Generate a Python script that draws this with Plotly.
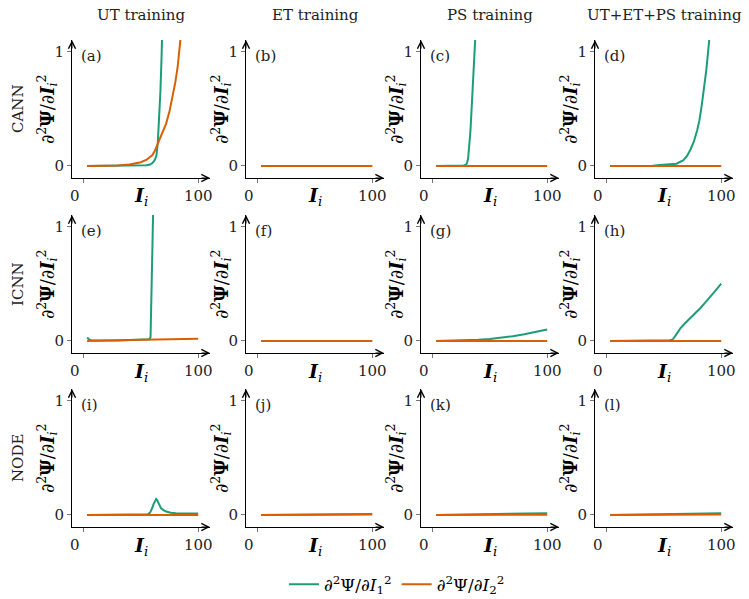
import plotly.graph_objects as go

# ---------------- data ----------------
COL_TITLES = ["UT training", "ET training", "PS training", "UT+ET+PS training"]
ROW_TITLES = ["CANN", "ICNN", "NODE"]
PANEL_LABELS = ["(a)", "(b)", "(c)", "(d)", "(e)", "(f)", "(g)", "(h)", "(i)", "(j)", "(k)", "(l)"]
X_TICKS = [0, 100]
Y_TICKS = [0, 1]

# (a) CANN / UT
A_I = [3, 10, 20, 30, 40, 45, 50, 55, 58, 60, 62, 63.5, 64.7, 66, 67, 68, 69, 72, 75, 78, 80, 82, 85, 88]
A_G = [0, 0, 0, 0, 0.001, 0.002, 0.003, 0.006, 0.012, 0.025, 0.05, 0.09, 0.2, 0.4, 0.65, 0.95, 1.35,
       None, None, None, None, None, None, None]
A_O = [0, 0, 0.002, 0.004, 0.012, 0.02, 0.033, 0.055, 0.075, 0.095, 0.13, 0.165, 0.2, 0.23, 0.25, 0.28, 0.3,
       0.37, 0.48, 0.62, 0.73, 0.86, 1.12, 1.45]
# (b) CANN / ET
B_I = [3, 50, 100]
B_G = [0, 0, 0]
B_O = [0, 0, 0]
# (c) CANN / PS
C_I = [3, 10, 20, 25, 27, 29, 30, 31, 32, 33, 34, 35, 36, 37, 37.5, 40, 50, 60, 70, 80, 90, 100]
C_G = [0, 0, 0, 0.002, 0.005, 0.01, 0.025, 0.07, 0.17, 0.31, 0.5, 0.68, 0.89, 1.08, 1.18,
       None, None, None, None, None, None, None]
C_O = [0] * 22
# (d) CANN / UT+ET+PS
D_I = [3, 10, 20, 30, 40, 46.5, 55, 61, 67, 70, 73, 76, 79, 81, 83, 85, 86, 87, 88, 89, 90, 92, 95, 100]
D_G = [0, 0, 0, 0, 0.003, 0.008, 0.012, 0.02, 0.05, 0.085, 0.14, 0.21, 0.31, 0.4, 0.53, 0.67, 0.75, 0.84,
       0.94, 1.04, 1.15, None, None, None]
D_O = [0] * 24
# (e) ICNN / UT
E_I = [3, 4, 5, 7, 10, 20, 30, 40, 50, 57.5, 58.4, 59.2, 59.8, 60.3, 60.6, 61, 70, 80, 90, 100]
E_G = [0.03, 0.02, 0.01, 0.005, 0.004, 0.004, 0.005, 0.007, 0.01, 0.015, 0.035, 0.36, 0.66, 0.96, 1.12, 1.3,
       None, None, None, None]
E_O = [0, 0, 0.001, 0.001, 0.002, 0.004, 0.006, 0.008, 0.01, 0.011, 0.011, 0.012, 0.012, 0.012, 0.012, 0.012,
       0.014, 0.016, 0.018, 0.02]
# (f) ICNN / ET
F_I = [3, 50, 100]
F_G = [0, 0, 0]
F_O = [0, 0, 0]
# (g) ICNN / PS
G_I = [3, 10, 20, 30, 40, 50, 60, 70, 80, 90, 100]
G_G = [0, 0.001, 0.003, 0.006, 0.011, 0.018, 0.028, 0.042, 0.058, 0.078, 0.1]
G_O = [0] * 11
# (h) ICNN / UT+ET+PS
H_I = [3, 10, 20, 30, 40, 50, 55, 57, 58.3, 61, 64.3, 68, 73.2, 78, 82.1, 86, 91, 95, 100]
H_G = [0, 0, 0, 0.001, 0.002, 0.004, 0.006, 0.01, 0.02, 0.06, 0.11, 0.15, 0.2, 0.25, 0.29, 0.335, 0.39, 0.44, 0.5]
H_O = [0] * 19
# (i) NODE / UT
I_I = [3, 10, 20, 30, 40, 50, 54, 56, 58, 59, 60, 61, 61.8, 62.5, 63.3, 64, 64.7, 66, 67.6, 70, 72, 76, 80.5, 90, 100]
I_G = [0, 0, 0.001, 0.001, 0.002, 0.003, 0.004, 0.006, 0.02, 0.04, 0.065, 0.095, 0.116, 0.13, 0.14, 0.132, 0.116,
       0.085, 0.058, 0.04, 0.03, 0.02, 0.015, 0.013, 0.012]
I_O = [0] * 25
# (j) NODE / ET
J_I = [3, 50, 100]
J_G = [0, 0.004, 0.008]
J_O = [0, 0.003, 0.005]
# (k) NODE / PS
K_I = [3, 50, 100]
K_G = [0, 0.008, 0.015]
K_O = [0, 0.002, 0.003]
# (l) NODE / UT+ET+PS
L_I = [3, 50, 100]
L_G = [0, 0.008, 0.015]
L_O = [0, 0.003, 0.004]

PANELS = [(A_I, A_G, A_O), (B_I, B_G, B_O), (C_I, C_G, C_O), (D_I, D_G, D_O),
          (E_I, E_G, E_O), (F_I, F_G, F_O), (G_I, G_G, G_O), (H_I, H_G, H_O),
          (I_I, I_G, I_O), (J_I, J_G, J_O), (K_I, K_G, K_O), (L_I, L_G, L_O)]

NAME_1 = "∂<sup>2</sup>Ψ/∂<i>I</i><sub>1</sub><sup>2</sup>"
NAME_2 = "∂<sup>2</sup>Ψ/∂<i>I</i><sub>2</sub><sup>2</sup>"
YLABEL = "∂<sup>2</sup><b>Ψ</b>/∂<b><i>I</i></b><sub><i>i</i></sub><sup>2</sup>"
XLABEL = "<b><i>I</i></b><sub><i>i</i></sub>"

# ---------------- styling / layout ----------------
GREEN = "#1b9e77"
ORANGE = "#d95f02"
FONT = "DejaVu Serif"
W, H = 749, 599
COL_LEFT = [72, 246, 421, 595]
ROW_TOP = [40, 215, 389]
PW, PH = 138, 138
X_RANGE = [-10.2, 110.3]
Y_RANGE = [-0.105, 1.1]

fig = go.Figure()
annotations = []
layout = {}

for k, (xs, g, o) in enumerate(PANELS):
    r, c = divmod(k, 4)
    xa = "x" if k == 0 else f"x{k+1}"
    ya = "y" if k == 0 else f"y{k+1}"
    xkey = "xaxis" if k == 0 else f"xaxis{k+1}"
    ykey = "yaxis" if k == 0 else f"yaxis{k+1}"
    fig.add_trace(go.Scatter(x=xs, y=g, mode="lines", line=dict(color=GREEN, width=2),
                             name=NAME_1, showlegend=(k == 0), xaxis=xa, yaxis=ya,
                             connectgaps=False))
    fig.add_trace(go.Scatter(x=xs, y=o, mode="lines", line=dict(color=ORANGE, width=2),
                             name=NAME_2, showlegend=(k == 0), xaxis=xa, yaxis=ya))
    x0 = COL_LEFT[c] / W
    x1 = (COL_LEFT[c] + PW) / W
    y1 = 1 - ROW_TOP[r] / H
    y0 = 1 - (ROW_TOP[r] + PH) / H
    layout[xkey] = dict(domain=[x0, x1], range=X_RANGE, anchor=ya, showgrid=False, zeroline=False,
                        automargin=False,
                        showline=True, linecolor="black", linewidth=1,
                        ticks="outside", ticklen=4, tickcolor="#777", tickwidth=1,
                        tickvals=X_TICKS, ticktext=["0\u2003\u2009", "100"],
                        tickfont=dict(family=FONT, size=15, color="#222"), fixedrange=True)
    layout[ykey] = dict(domain=[y0, y1], range=Y_RANGE, anchor=xa, showgrid=False, zeroline=False,
                        automargin=False,
                        showline=True, linecolor="black", linewidth=1,
                        ticks="outside", ticklen=4, tickcolor="#777", tickwidth=1,
                        tickvals=Y_TICKS, ticktext=[str(v) for v in Y_TICKS],
                        tickfont=dict(family=FONT, size=15, color="#222"), fixedrange=True)
    xd, yd = f"{xa} domain", f"{ya} domain"
    # axis arrows
    annotations.append(dict(xref=xd, yref=yd, x=1, y=0, ax=-10, ay=0, axref="pixel", ayref="pixel",
                            text="", showarrow=True, arrowhead=5, arrowsize=1.4, arrowwidth=1,
                            arrowcolor="black", standoff=0, startstandoff=0))
    annotations.append(dict(xref=xd, yref=yd, x=0, y=1, ax=0, ay=10, axref="pixel", ayref="pixel",
                            text="", showarrow=True, arrowhead=5, arrowsize=1.4, arrowwidth=1,
                            arrowcolor="black", standoff=0, startstandoff=0))
    # panel label
    annotations.append(dict(xref=xd, yref=yd, x=0, y=1, xshift=7, yshift=-16, xanchor="left",
                            yanchor="middle", text=PANEL_LABELS[k], showarrow=False,
                            font=dict(family=FONT, size=15, color="#222")))
    # axis titles
    annotations.append(dict(xref=xd, yref=yd, x=0, y=0.5, xshift=-25, xanchor="center",
                            yanchor="middle", textangle=-90, text=YLABEL, showarrow=False,
                            font=dict(family=FONT, size=18, color="black")))
    annotations.append(dict(xref=xd, yref=yd, x=0.5, y=0, yshift=-19, xanchor="center",
                            yanchor="middle", text=XLABEL, showarrow=False,
                            font=dict(family=FONT, size=19, color="black")))
    if r == 0:
        annotations.append(dict(xref=xd, yref="paper", x=0.5, y=1 - 15 / H, xanchor="center",
                                yanchor="middle", text=COL_TITLES[c], showarrow=False,
                                font=dict(family=FONT, size=15, color="#222")))
    if c == 0:
        annotations.append(dict(xref="paper", yref=yd, x=18 / W, y=0.5, xanchor="center",
                                yanchor="middle", textangle=-90, text=ROW_TITLES[r], showarrow=False,
                                font=dict(family=FONT, size=15, color="#222")))

fig.update_layout(
    template=go.layout.Template(),
    width=W, height=H, margin=dict(l=0, r=0, t=0, b=0, autoexpand=False),
    paper_bgcolor="white", plot_bgcolor="white",
    font=dict(family=FONT, size=15, color="black"),
    showlegend=True,
    legend=dict(orientation="h", x=0.53, xanchor="center", y=-0.006, yanchor="bottom",
                font=dict(family=FONT, size=17, color="black"), bgcolor="rgba(0,0,0,0)"),
    annotations=annotations,
    **layout,
)

fig.write_html("out.html", config={"displayModeBar": False},
               post_script="document.body.style.margin='0';document.body.style.overflow='hidden';")
